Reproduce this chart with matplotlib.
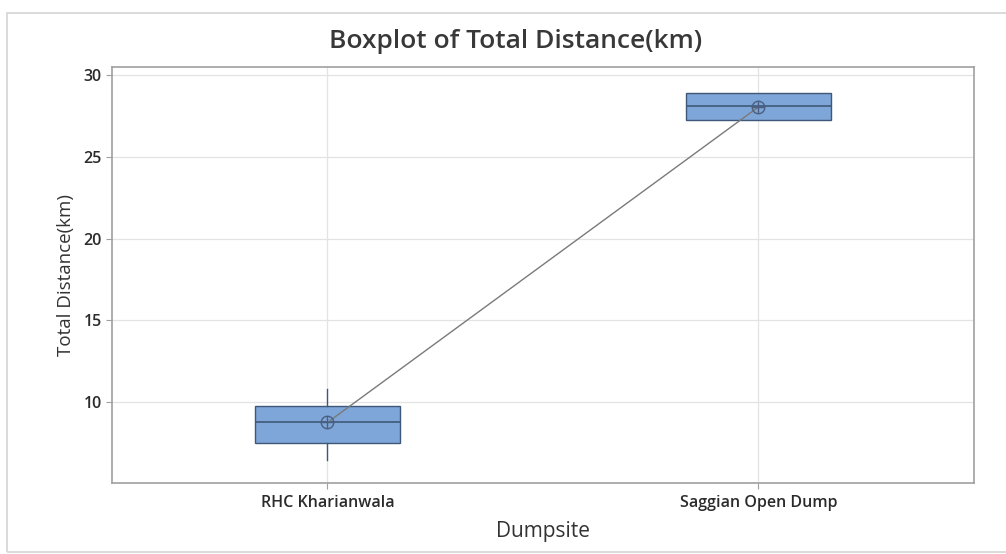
import matplotlib
matplotlib.use("Agg")
import matplotlib.pyplot as plt
from matplotlib.patches import Rectangle

# Summary statistics per dumpsite (km)
sites = ["RHC Kharianwala", "Saggian Open Dump"]
q1 = [7.49, 27.25]
median = [8.78, 28.1]
q3 = [9.76, 28.9]
whisker_low = [6.46, 27.25]
whisker_high = [10.8, 28.9]
mean = [8.75, 28.05]
y_ticks = [10, 15, 20, 25, 30]

plt.rcParams["font.family"] = ["Open Sans", "DejaVu Sans"]

fig = plt.figure(figsize=(10.06, 5.54), dpi=100)
fig.patch.set_facecolor("white")
# thin outer frame around the graph window
fig.patches.append(Rectangle((0.007, 0.004), 1.2, 0.973, transform=fig.transFigure,
                             fill=False, edgecolor="#d4d4d4", linewidth=1.2))

ax = fig.add_axes([0.1113, 0.1282, 0.8569, 0.7509])

stats = []
for i, name in enumerate(sites):
    stats.append(dict(label=name, med=median[i], q1=q1[i], q3=q3[i],
                      whislo=whisker_low[i], whishi=whisker_high[i],
                      mean=mean[i], fliers=[]))

positions = list(range(1, len(sites) + 1))
edge = "#3f5878"
ax.bxp(stats, positions=positions, widths=0.335, patch_artist=True,
       showcaps=False, showmeans=False, showfliers=False,
       boxprops=dict(facecolor="#7ea6d8", edgecolor=edge, linewidth=1.0),
       medianprops=dict(color=edge, linewidth=1.2),
       whiskerprops=dict(color=edge, linewidth=1.0), zorder=3)

# mean connect line and circled-plus mean symbols
ax.plot(positions, mean, color="#7a7a7a", linewidth=1.0, zorder=4)
ax.plot(positions, mean, linestyle="none", marker="o", markersize=9,
        markerfacecolor="none", markeredgecolor="#4a5f80", markeredgewidth=1.0, zorder=5)
ax.plot(positions, mean, linestyle="none", marker="+", markersize=9,
        markeredgecolor="#4a5f80", markeredgewidth=1.0, zorder=5)

ax.set_xlim(0.5, 2.5)
ax.set_ylim(5.05, 30.49)
ax.set_yticks(y_ticks)
ax.set_xticks(positions)
ax.set_xticklabels(sites)
ax.grid(True, color="#e3e3e3", linewidth=0.9, zorder=0)
ax.set_axisbelow(True)

for s in ax.spines.values():
    s.set_color("#a0a0a0")
    s.set_linewidth(1.2)
ax.tick_params(axis="both", colors="#a0a0a0", length=4, width=0.8,
               labelcolor="#2b2b2b", labelsize=11.5)
ax.tick_params(axis="x", pad=5)
for lbl in ax.get_xticklabels() + ax.get_yticklabels():
    lbl.set_fontweight("semibold")

fig.text(0.512, 0.925, "Boxplot of Total Distance(km)", fontsize=19,
         fontweight="semibold", color="#383838", ha="center", va="center")
ax.set_xlabel("Dumpsite", fontsize=15, color="#333333", labelpad=7)
ax.set_ylabel("Total Distance(km)", fontsize=13.5, color="#333333", labelpad=6)

fig.savefig("out.png", dpi=100, facecolor="white")
